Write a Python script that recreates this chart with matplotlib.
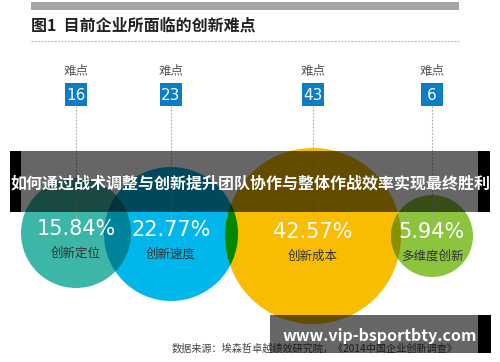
import matplotlib.pyplot as plt
from matplotlib.patches import Circle, Rectangle
from matplotlib.colors import to_rgb

plt.rcParams['font.family'] = ['Noto Sans CJK SC', 'DejaVu Sans']

title = "图1  目前企业所面临的创新难点"
labels = ["创新定位", "创新速度", "创新成本", "多维度创新"]
shares = [15.84, 22.77, 42.57, 5.94]
counts = [16, 23, 43, 6]
source = "数据来源：埃森哲卓越绩效研究院，《2014中国企业创新调查》"
banner = "如何通过战术调整与创新提升团队协作与整体作战效率实现最终胜利"
site = "www.vip-bsportbty.com"

# layout
xs = [76, 171, 313, 432]
ys = [233, 234, 236, 236]
radii = [55, 67, 88, 41]
colors = ["#3cb6a6", "#00b6ea", "#f8bd00", "#8cc43e"]

fig = plt.figure(figsize=(5, 3.62), dpi=100)
ax = fig.add_axes([0, 0, 1, 1])
ax.set_xlim(0, 500)
ax.set_ylim(362, 0)
ax.axis('off')

# top grey bar, title and dotted rule
ax.add_patch(Rectangle((31, 2), 428, 8, color="#a6a6a6", lw=0))
ax.text(31, 26, title, fontsize=11.5, fontweight='bold', color="#222222", va='center')
ax.plot([31, 459], [41, 41], ls=(0, (1.5, 1.5)), color="#aaaaaa", lw=0.8)

# circles
circles = []
for i in range(len(labels)):
    c = Circle((xs[i], ys[i]), radii[i], color=colors[i], lw=0, zorder=2)
    ax.add_patch(c)
    circles.append(c)

# overlaps (multiply blend)
for i in range(len(labels) - 1):
    a = to_rgb(colors[i])
    b = to_rgb(colors[i + 1])
    mix = tuple(a[k] * b[k] for k in range(3))
    ov = Circle((xs[i + 1], ys[i + 1]), radii[i + 1], color=mix, lw=0, zorder=3)
    ax.add_patch(ov)
    ov.set_clip_path(circles[i])

for i in range(len(labels)):
    ax.text(xs[i], 72, "难点", fontsize=9, color="#555555",
            ha='center', va='center', zorder=5)
    ax.add_patch(Rectangle((xs[i] - 11, 83), 22, 23, color="#0b7dc5", lw=0, zorder=5))
    ax.text(xs[i], 95, str(counts[i]), fontsize=11, color="white", ha='center',
            va='center', family='DejaVu Sans', zorder=6)
    ax.plot([xs[i], xs[i]], [106, ys[i] - 10], ls=(0, (1.5, 1.5)), color="#aaaaaa",
            lw=0.8, zorder=4)
    ax.text(xs[i], ys[i] - 4, "%.2f%%" % shares[i], fontsize=15, color="white",
            ha='center', va='center', family='DejaVu Sans', zorder=6)
    ax.text(xs[i], ys[i] + 20, labels[i], fontsize=9, color="#333333",
            ha='center', va='center', zorder=6)

# source
ax.text(172, 349, source, fontsize=7.3, color="#444444", va='center', zorder=6)

# overlay banner
ax.add_patch(Rectangle((10, 151), 480, 61, color="black", alpha=0.6, lw=0, zorder=8))
ax.add_patch(Rectangle((10, 151), 11, 61, color="black", lw=0, zorder=8))
ax.add_patch(Rectangle((478, 151), 12, 61, color="black", lw=0, zorder=8))
ax.text(250, 183, banner, fontsize=11.5, fontweight='bold', color="white",
        ha='center', va='center', zorder=9)

# bottom site banner
ax.add_patch(Rectangle((270, 315), 221, 38, color="black", alpha=0.6, lw=0, zorder=8))
ax.add_patch(Rectangle((478, 315), 13, 38, color="black", lw=0, zorder=8))
ax.text(380, 336, site, fontsize=11.5, fontweight='bold', color="white",
        ha='center', va='center', zorder=9)

fig.savefig("out.png", dpi=100)
